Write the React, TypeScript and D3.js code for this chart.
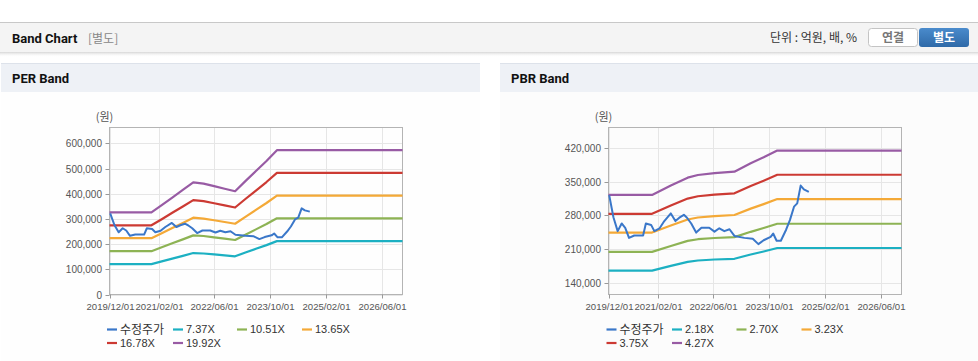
import React from 'react';
import * as d3 from 'd3';

// ---------- DATA ----------
const xTickDates = ['2019-12-01', '2021-02-01', '2022-06-01', '2023-10-01', '2025-02-01', '2026-06-01'];
const xTickLabels = ['2019/12/01', '2021/02/01', '2022/06/01', '2023/10/01', '2025/02/01', '2026/06/01'];
const xDomain = ['2019-12-01', '2026-12-01'];

const priceDates = ['2019-12-07','2020-01-13','2020-02-19','2020-03-25','2020-04-25','2020-05-28','2020-07-13','2020-09-28','2020-10-22','2020-12-07','2021-01-04','2021-02-19','2021-04-01','2021-05-28','2021-07-07','2021-08-10','2021-09-19','2021-10-16','2021-11-22','2022-01-04','2022-02-19','2022-04-28','2022-06-13','2022-07-25','2022-09-07','2022-10-22','2022-12-04','2023-03-01','2023-05-13','2023-07-01','2023-08-16','2023-10-16','2023-11-07','2023-12-07','2024-01-13','2024-02-28','2024-04-01','2024-05-07','2024-06-04','2024-07-04','2024-08-01','2024-09-13'];
const priceValues = [322000,276000,247000,263000,254000,233000,238000,238000,263000,260000,247000,253000,268000,284000,268000,275000,281000,275000,263000,244000,254000,254000,246000,253000,247000,251000,237000,233000,231000,220000,228000,235000,242000,227000,227000,250000,270000,298000,305000,342000,334000,329000];

const perBandDates = ['2019-12-01','2020-12-01','2021-03-01','2021-06-01','2021-09-01','2021-12-01','2022-03-01','2022-06-01','2022-09-01','2022-12-01','2023-03-01','2023-06-01','2023-09-01','2023-12-01','2026-12-01'];
const per737 = [120600,120600,131300,142500,153500,164600,162800,159100,155400,151700,166500,181300,196100,212000,212000];
const per1051 = [172000,172000,187300,203200,218900,234800,232200,226900,221500,216300,237400,258500,279700,302400,302400];
const per1365 = [223500,223500,243200,263900,284300,304900,301500,294700,287700,280900,308400,335800,363200,392700,392700];
const per1678 = [274700,274700,299000,324400,349500,374900,370700,362300,353700,345300,379100,412800,446500,482800,482800];
const per1992 = [326000,326000,355000,385000,415000,445000,440000,430000,420000,410000,450000,490000,530000,573000,573000];
const perLabels = ['7.37X', '10.51X', '13.65X', '16.78X', '19.92X'];
const perYTicks = [0, 100000, 200000, 300000, 400000, 500000, 600000];

const pbrBandDates = ['2019-12-01','2020-12-15','2021-05-28','2021-10-22','2022-01-19','2022-06-13','2022-12-04','2023-04-25','2023-08-16','2023-12-13','2026-12-01'];
const pbr218 = [164700,164700,174600,183000,185800,187900,189400,198300,204700,211900,211900];
const pbr270 = [203900,203900,216200,226700,230200,232700,234600,245600,253600,262400,262400];
const pbr323 = [244000,244000,258700,271200,275400,278400,280700,293900,303300,313900,313900];
const pbr375 = [283200,283200,300300,314900,319700,323200,325800,341200,352200,364500,364500];
const pbr427 = [322500,322500,342000,358500,364000,368000,371000,388500,401000,415000,415000];
const pbrLabels = ['2.18X', '2.70X', '3.23X', '3.75X', '4.27X'];
const pbrYTicks = [140000, 210000, 280000, 350000, 420000];

const priceLabel = '수정주가';
const bandColors = ['#1cb0c2', '#8db354', '#f4a937', '#cc3a33', '#985ba4'];
const priceColor = '#3a77c9';

const FONT = "'Liberation Sans', Arial, 'Noto Sans CJK KR', sans-serif";
const KFONT = "'Noto Sans CJK KR', 'Liberation Sans', sans-serif";

const parse = d3.timeParse('%Y-%m-%d');

type Series = { label: string; color: string; dates: string[]; values: number[] };

function Chart(props: {
  left: number; right: number; top: number; bottom: number;
  yDomain: [number, number]; yTicks: number[];
  series: Series[]; price: Series; legendX: number[];
}) {
  const { left, right, top, bottom, yDomain, yTicks, series, price, legendX } = props;
  const x = d3.scaleTime().domain(xDomain.map((d) => parse(d) as Date)).range([left, right]);
  const y = d3.scaleLinear().domain(yDomain).range([bottom, top]);
  const fmt = d3.format(',');
  const line = d3.line<[Date, number]>().x((d) => x(d[0])).y((d) => y(d[1]));
  const mk = (s: Series) => line(s.dates.map((d, i) => [parse(d) as Date, s.values[i]]));
  const legendItems: Series[] = [price, ...series];
  const rowY = [329.5, 343];
  return (
    <g>
      {/* grid */}
      {xTickDates.map((d) => {
        const xx = Math.round(x(parse(d) as Date)) + 0.5;
        return <line key={'gx' + d} x1={xx} x2={xx} y1={top} y2={bottom} stroke="#e6e6e6" />;
      })}
      {yTicks.map((t) => {
        const yy = Math.round(y(t)) + 0.5;
        return <line key={'gy' + t} x1={left} x2={right} y1={yy} y2={yy} stroke="#e6e6e6" />;
      })}
      {/* border */}
      <rect x={left} y={top} width={right - left} height={bottom - top} fill="none" stroke="#b4b4b4" />
      {/* y ticks */}
      {yTicks.map((t) => {
        const yy = Math.round(y(t)) + 0.5;
        return (
          <g key={'yt' + t}>
            <line x1={left - 4} x2={left} y1={yy} y2={yy} stroke="#999" />
            <text x={left - 7.5} y={yy} dy="0.35em" textAnchor="end" fontSize={10} fill="#555" fontFamily={FONT}>
              {fmt(t)}
            </text>
          </g>
        );
      })}
      {/* x ticks */}
      {xTickDates.map((d, i) => {
        const xx = Math.round(x(parse(d) as Date)) + 0.5;
        return (
          <g key={'xt' + d}>
            <line x1={xx} x2={xx} y1={bottom} y2={bottom + 4} stroke="#999" />
            <text x={xx} y={310} textAnchor="middle" fontSize={9.6} fill="#555" fontFamily={FONT}>
              {xTickLabels[i]}
            </text>
          </g>
        );
      })}
      <text x={left - 5} y={117} dy="0.35em" textAnchor="middle" fontSize={11} fill="#555" fontFamily={KFONT}>
        (원)
      </text>
      {/* lines */}
      {series.map((s) => (
        <path key={s.label} d={mk(s) || ''} fill="none" stroke={s.color} strokeWidth={2.2} strokeLinejoin="round" />
      ))}
      <path d={mk(price) || ''} fill="none" stroke={price.color} strokeWidth={2} strokeLinejoin="round" />
      {/* legend */}
      {legendItems.map((s, i) => {
        const col = i % 4;
        const row = Math.floor(i / 4);
        const lx = legendX[col];
        const ly = rowY[row];
        return (
          <g key={'lg' + s.label}>
            <line x1={lx} x2={lx + 10} y1={ly} y2={ly} stroke={s.color} strokeWidth={2.2} />
            <text x={lx + 13} y={ly} dy="0.36em" fontSize={i === 0 ? 12 : 11} fill="#333" fontFamily={i === 0 ? KFONT : FONT}>
              {s.label}
            </text>
          </g>
        );
      })}
    </g>
  );
}

export default function App() {
  const perSeries: Series[] = [per737, per1051, per1365, per1678, per1992].map((v, i) => ({
    label: perLabels[i], color: bandColors[i], dates: perBandDates, values: v,
  }));
  const pbrSeries: Series[] = [pbr218, pbr270, pbr323, pbr375, pbr427].map((v, i) => ({
    label: pbrLabels[i], color: bandColors[i], dates: pbrBandDates, values: v,
  }));
  const price: Series = { label: priceLabel, color: priceColor, dates: priceDates, values: priceValues };
  return (
    <svg width={978} height={361} style={{ position: 'absolute', left: 0, top: 0, background: '#fff' }}>
      <defs>
        <linearGradient id="shadow" x1="0" x2="0" y1="0" y2="1">
          <stop offset="0" stopColor="#d6d6d6" />
          <stop offset="1" stopColor="#ffffff" stopOpacity={0} />
        </linearGradient>
        <linearGradient id="btnBlue" x1="0" x2="0" y1="0" y2="1">
          <stop offset="0" stopColor="#4a8bcc" />
          <stop offset="1" stopColor="#2f6aa8" />
        </linearGradient>
      </defs>
      <rect x={0} y={0} width={978} height={361} fill="#fff" />
      {/* top header bar */}
      <rect x={0} y={22} width={978} height={30} fill="#f4f4f4" />
      <line x1={0} x2={978} y1={22.5} y2={22.5} stroke="#c8c8c8" />
      <rect x={0} y={52} width={978} height={5} fill="url(#shadow)" />
      <text x={12} y={42.5} fontSize={13} fontWeight="bold" fill="#111" fontFamily="Roboto, 'Noto Sans CJK KR', sans-serif">
        Band Chart
      </text>
      <text x={88} y={42.5} fontSize={12} fill="#888" fontFamily={KFONT}>
        [별도]
      </text>
      <text x={770} y={42} fontSize={12} fill="#333" fontFamily={KFONT}>
        단위 : 억원, 배, %
      </text>
      <rect x={868.5} y={28.5} width={49} height={18} rx={3} fill="#fff" stroke="#c4c4c4" />
      <text x={893} y={41.5} textAnchor="middle" fontSize={12} fontWeight="bold" fill="#777" fontFamily={KFONT}>
        연결
      </text>
      <rect x={919} y={28} width={50} height={19} rx={3} fill="url(#btnBlue)" />
      <text x={944} y={41.5} textAnchor="middle" fontSize={12} fontWeight="bold" fill="#fff" fontFamily={KFONT}>
        별도
      </text>

      {/* panel headers */}
      <rect x={1} y={63} width={479} height={29} fill="#eef1f6" />
      <line x1={1} x2={480} y1={63.5} y2={63.5} stroke="#dde2ea" />
      <rect x={500} y={63} width={478} height={29} fill="#eef1f6" />
      <line x1={500} x2={978} y1={63.5} y2={63.5} stroke="#dde2ea" />
      <rect x={1} y={92} width={479} height={269} fill="#fefefe" />
      <rect x={500} y={92} width={478} height={269} fill="#fcfcfc" />
      <text x={12} y={83} fontSize={13} fontWeight="bold" fill="#111" fontFamily="Roboto, 'Noto Sans CJK KR', sans-serif">
        PER Band
      </text>
      <text x={511} y={83} fontSize={13} fontWeight="bold" fill="#111" fontFamily="Roboto, 'Noto Sans CJK KR', sans-serif">
        PBR Band
      </text>

      <Chart left={109.5} right={402.5} top={127.5} bottom={294.5} yDomain={[0, 663000]} yTicks={perYTicks}
        series={perSeries} price={price} legendX={[107, 173, 237, 302]} />
      <Chart left={608.5} right={901.5} top={127.5} bottom={294.5} yDomain={[115000, 463000]} yTicks={pbrYTicks}
        series={pbrSeries} price={price} legendX={[606.5, 672, 736.5, 801.5]} />
    </svg>
  );
}
